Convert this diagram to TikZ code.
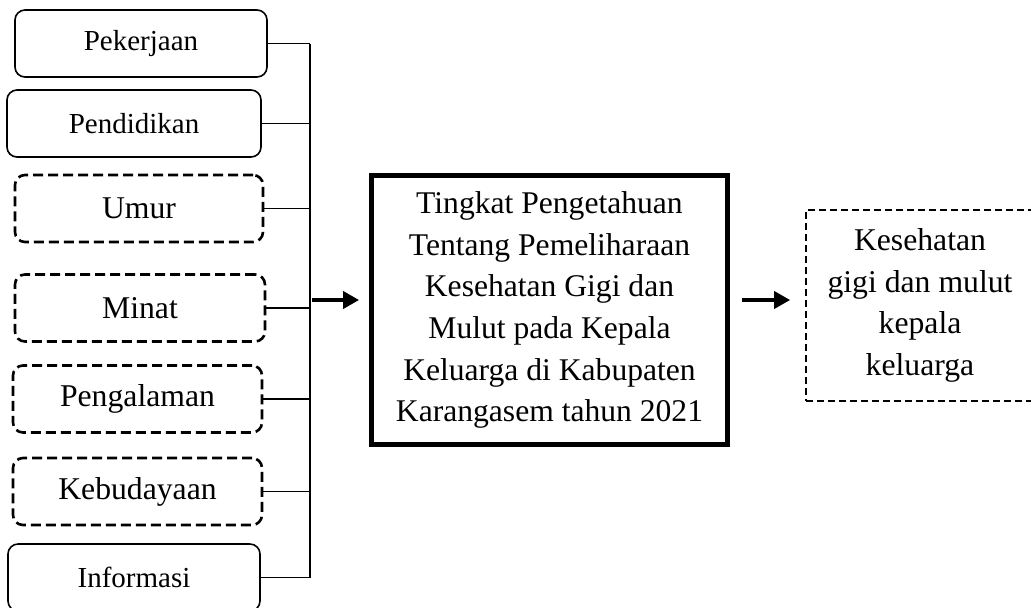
\documentclass[tikz,border=0pt]{standalone}
\usepackage{fontspec}
\setmainfont{Liberation Serif}
\usetikzlibrary{positioning}
\usetikzlibrary{arrows.meta}

\begin{document}
\begin{tikzpicture}[x=0.5pt, y=-0.5pt,
			factor/.style={draw, rounded corners=5pt, line width=0.8pt, minimum height=33.5pt, inner sep=0pt, font=\fontsize{14.5}{17}\selectfont},
			latent/.style={factor, dash pattern=on 5pt off 2.5pt, line width=1.3pt, font=\fontsize{15.85}{19}\selectfont},
			bus/.style={line width=0.7pt},
			arrow/.style={line width=1.8pt, -{Triangle[length=8pt, width=8.5pt]}}]
			\useasboundingbox (0,0) rectangle (1031,607);
			% factors on the left
			\node[factor, minimum width=126pt](pekerjaan) at (141,43.5){Pekerjaan};
			\node[factor, minimum width=127pt](pendidikan) at (134,123.5){Pendidikan};
			\node[latent, minimum width=124pt](umur) at (139,208.5){Umur};
			\node[latent, minimum width=125pt](minat) at (140,308){Minat};
			\node[latent, minimum width=124.5pt](pengalaman) at (137.5,399){Pengalaman};
			\node[latent, minimum width=124.5pt](kebudayaan) at (137.5,491.5){Kebudayaan};
			\node[factor, minimum width=126pt](informasi) at (134,577.5){Informasi};
			% main box and outcome
			\node[draw, line width=2.4pt, minimum width=178pt, minimum height=134.5pt, align=center, font=\fontsize{15.8}{20.85}\selectfont](knowledge) at (549.5,310){Tingkat Pengetahuan\\Tentang Pemeliharaan\\Kesehatan Gigi dan\\Mulut pada Kepala\\Keluarga di Kabupaten\\Karangasem tahun 2021};
			\node[draw, dash pattern=on 3.5pt off 2pt, line width=0.85pt, minimum width=114pt, minimum height=95.5pt, align=center, font=\fontsize{15.85}{20.85}\selectfont](outcome) at (920,305.5){Kesehatan\\gigi dan mulut\\kepala\\keluarga};
			% bus line
			\coordinate (bustop) at (310,44);
			\coordinate (busbottom) at (310,578);
			\coordinate (split) at (310,300);
			\path[draw, line width=1pt] (bustop) -- (busbottom);
			\foreach \f in {pekerjaan, pendidikan, umur, minat, pengalaman, kebudayaan, informasi}
				\path[draw, bus] (\f.east) -- (\f.east -| bustop);
			\path[draw, arrow, shorten >=5pt] ([xshift=1pt]split) -- (split -| knowledge.west);
			\path[draw, arrow, shorten <=6pt, shorten >=7.5pt] (knowledge.east |- split) -- (outcome.west |- split);
\end{tikzpicture}
\end{document}
